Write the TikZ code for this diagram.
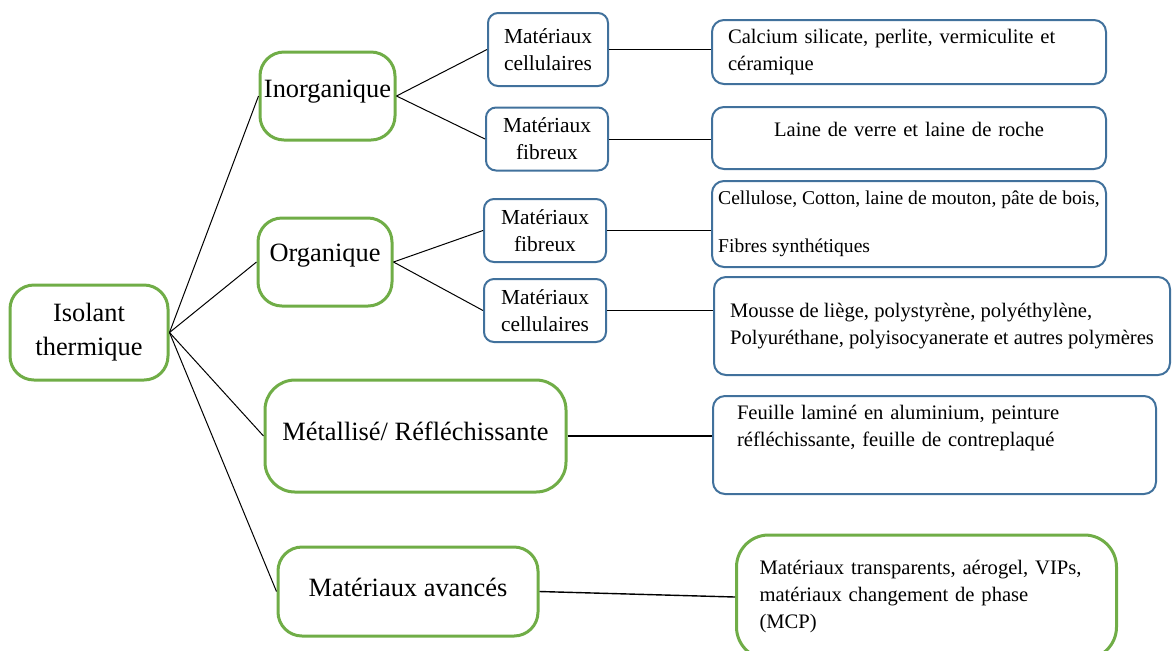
\documentclass[tikz,border=0pt]{standalone}
\usepackage{fontspec}
\setmainfont{Liberation Serif}
\definecolor{vert}{HTML}{70AD47}
\definecolor{bleu}{HTML}{41719C}
\begin{document}
\begin{tikzpicture}[x=0.5pt,y=-0.5pt,
        gbox/.style={draw=vert,line width=1.5pt,rounded corners=12pt,align=center,inner xsep=1pt,font=\fontsize{13.2}{17}\selectfont},
        mbox/.style={draw=bleu,line width=1pt,rounded corners=5pt,align=center,inner sep=1pt,font=\fontsize{10.7}{13.5}\selectfont,minimum width=61pt,minimum height=31.5pt},
        rbox/.style={draw=bleu,line width=1pt,rounded corners=6pt,align=left,font=\fontsize{10.3}{13.5}\selectfont,minimum width=197pt},
        link/.style={line width=0.5pt}]
        \useasboundingbox (0,0) rectangle (1172,650);
        % classes
        \node[gbox,minimum width=79pt,minimum height=47.5pt] (root) at (89,332.5) {Isolant\\thermique};
        \node[gbox,minimum width=67.5pt,minimum height=44pt,text height=10pt,text depth=9pt] (inorg) at (327.5,96) {Inorganique};
        \node[gbox,minimum width=67pt,minimum height=44pt,text height=10pt,text depth=11pt] (org) at (325,262) {Organique};
        \node[gbox,minimum width=150.5pt,minimum height=56pt,rounded corners=15pt,text height=10pt,text depth=6pt] (metal) at (415.5,436) {Métallisé/ Réfléchissante};
        \node[gbox,minimum width=130pt,minimum height=44.5pt,text height=10pt,text depth=5pt] (avance) at (408,591.5) {Matériaux avancés};
        % sous-classes
        \node[mbox,minimum width=60pt,minimum height=36.5pt] (cellA) at (548,49.5) {Matériaux\\cellulaires};
        \node[mbox] (fibA) at (547,139) {Matériaux\\fibreux};
        \node[mbox] (fibB) at (545,230.5) {Matériaux\\fibreux};
        \node[mbox] (cellB) at (545,310.5) {Matériaux\\cellulaires};
        % exemples
        \node[rbox,text width=181pt,inner xsep=8pt,minimum height=32pt] (calc) at (909,52) {Calcium silicate, perlite, vermiculite et\\céramique};
        \node[rbox,align=center,text width=181pt,minimum height=31pt,text height=9pt,text depth=11pt] (laine) at (909,138) {Laine de verre et laine de roche};
        \node[rbox,minimum height=43pt,inner xsep=2pt,font=\fontsize{9.8}{13.5}\selectfont] (cellu) at (909,224) {Cellulose, Cotton, laine de mouton, pâte de bois,\\[10.5pt]Fibres synthétiques};
        \node[rbox,minimum width=228pt,minimum height=49pt] (mousse) at (942,326) {Mousse de liège, polystyrène, polyéthylène,\\Polyuréthane, polyisocyanerate et autres polymères};
        \node[rbox,minimum width=221.5pt,minimum height=49pt,text width=197.5pt,inner xsep=12pt] (feuille) at (934.5,445) {Feuille laminé en aluminium, peinture\\réfléchissante, feuille de contreplaqué\par\rule{0pt}{16pt}};
        \node[rbox,draw=vert,line width=1.5pt,rounded corners=16pt,minimum width=189.5pt,minimum height=62pt,text width=167pt,inner xsep=11.5pt] (transp) at (926.5,597) {Matériaux transparents, aérogel, VIPs,\\matériaux changement de phase\\(MCP)};
        % liens
        \draw[link] (root.east) -- (inorg.west);
        \draw[link] (root.east) -- (org.west);
        \draw[link] (root.east) -- (metal.west);
        \draw[link] (root.east) -- (avance.west);
        \draw[link] (inorg.east) -- (cellA.west);
        \draw[link] (inorg.east) -- (fibA.west);
        \draw[link] (org.east) -- (fibB.west);
        \draw[link] (org.east) -- (cellB.west);
        \draw[link] (cellA.east) -- (cellA.east -| calc.west);
        \draw[link] (fibA.east) -- (fibA.east -| laine.west);
        \draw[link] (fibB.east) -- (fibB.east -| cellu.west);
        \draw[link] (cellB.east) -- (cellB.east -| mousse.west);
        \draw[link,line width=0.7pt] (metal.east) -- (metal.east -| feuille.west);
        \draw[link,line width=0.7pt] (avance.east) -- (transp.west);
\end{tikzpicture}
\end{document}
